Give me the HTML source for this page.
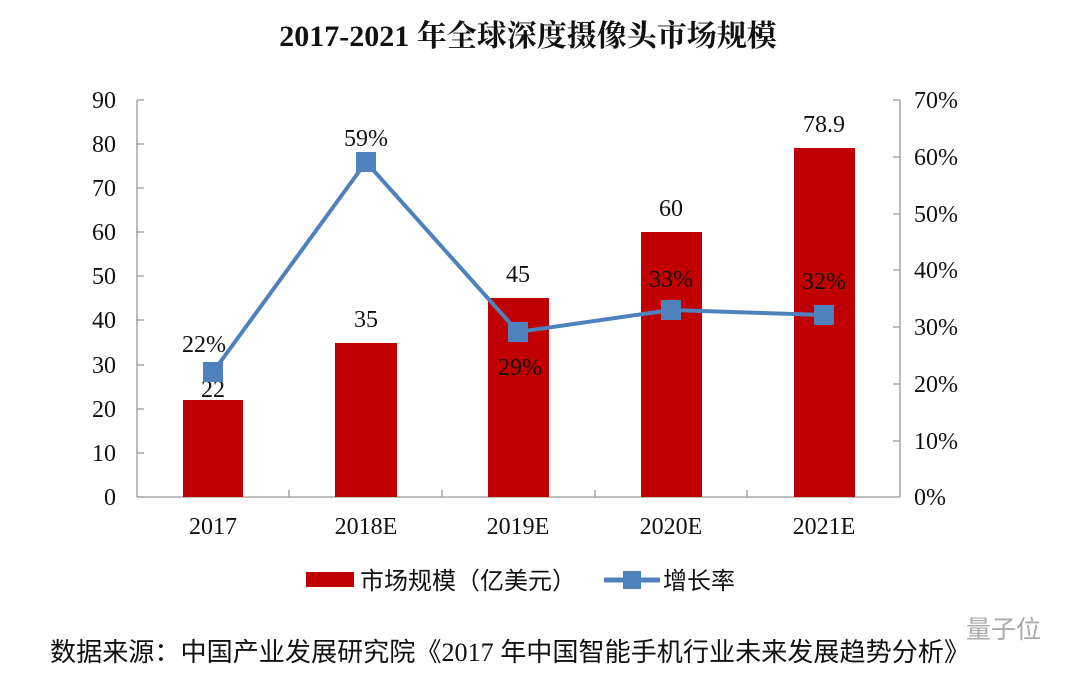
<!DOCTYPE html>
<html><head><meta charset="utf-8"><style>
html,body{margin:0;padding:0;background:#fff;}
svg{display:block;}
text{font-family:"Liberation Serif","Noto Serif CJK SC",serif;fill:#111;}
.cjk{font-family:"Liberation Serif","Noto Sans CJK SC",sans-serif;}
</style></head><body>
<svg width="1080" height="677" viewBox="0 0 1080 677">
<text x="528" y="46" text-anchor="middle" font-size="30" font-weight="bold">2017-2021 年全球深度摄像头市场规模</text>
<g stroke="#999" stroke-width="1.3" fill="none">
<line x1="137" y1="100" x2="137" y2="497"/>
<line x1="900" y1="100" x2="900" y2="497"/>
<line x1="137" y1="497" x2="900" y2="497"/>
<path d="M137 100h7M137 144h7M137 188h7M137 232h7M137 276h7M137 320h7M137 365h7M137 409h7M137 453h7M137 497h7"/>
<path d="M900 100h-7M900 157h-7M900 214h-7M900 270h-7M900 327h-7M900 384h-7M900 441h-7"/>
<path d="M289 497v-7M442 497v-7M595 497v-7M747 497v-7"/>
</g>
<g font-size="24" text-anchor="end">
<text x="116" y="108">90</text><text x="116" y="152">80</text><text x="116" y="196">70</text>
<text x="116" y="240">60</text><text x="116" y="284">50</text><text x="116" y="328">40</text>
<text x="116" y="373">30</text><text x="116" y="417">20</text><text x="116" y="461">10</text>
<text x="116" y="505">0</text>
</g>
<g font-size="24" text-anchor="start">
<text x="914" y="108">70%</text><text x="914" y="165">60%</text><text x="914" y="222">50%</text>
<text x="914" y="278">40%</text><text x="914" y="335">30%</text><text x="914" y="392">20%</text>
<text x="914" y="449">10%</text><text x="914" y="505">0%</text>
</g>
<g fill="#c00000">
<rect x="183" y="400" width="60" height="97"/>
<rect x="335" y="343" width="62" height="154"/>
<rect x="488" y="298" width="61" height="199"/>
<rect x="641" y="232" width="61" height="265"/>
<rect x="794" y="148" width="61" height="349"/>
</g>
<g font-size="24" text-anchor="middle">
<text x="213" y="534">2017</text><text x="366" y="534">2018E</text><text x="518" y="534">2019E</text>
<text x="671" y="534">2020E</text><text x="824" y="534">2021E</text>
<text x="213" y="397">22</text><text x="366" y="327">35</text><text x="518" y="282">45</text>
<text x="671" y="216">60</text><text x="824" y="132">78.9</text>
</g>
<polyline points="213,372 366,162 518,332 671,310 824,315" fill="none" stroke="#4f81bd" stroke-width="4"/>
<g fill="#4f81bd">
<rect x="203" y="362" width="20" height="20"/><rect x="356" y="152" width="20" height="20"/>
<rect x="508" y="322" width="20" height="20"/><rect x="661" y="300" width="20" height="20"/>
<rect x="814" y="305" width="20" height="20"/>
</g>
<g font-size="24" text-anchor="middle">
<text x="204" y="352">22%</text><text x="366" y="146">59%</text><text x="520" y="375">29%</text>
<text x="671" y="287">33%</text><text x="824" y="289">32%</text>
</g>
<rect x="306" y="572" width="48" height="15" fill="#c00000"/>
<text class="cjk" x="360" y="589" font-size="24">市场规模（亿美元）</text>
<line x1="604" y1="580" x2="660" y2="580" stroke="#4f81bd" stroke-width="5"/>
<rect x="623" y="571" width="18" height="18" fill="#4f81bd"/>
<text class="cjk" x="663" y="589" font-size="24">增长率</text>
<text class="cjk" x="966" y="638" font-size="25" style="fill:#aaa">量子位</text>
<text class="cjk" x="50" y="661" font-size="26" textLength="920" lengthAdjust="spacingAndGlyphs">数据来源：中国产业发展研究院《2017 年中国智能手机行业未来发展趋势分析》</text>
</svg>
</body></html>
